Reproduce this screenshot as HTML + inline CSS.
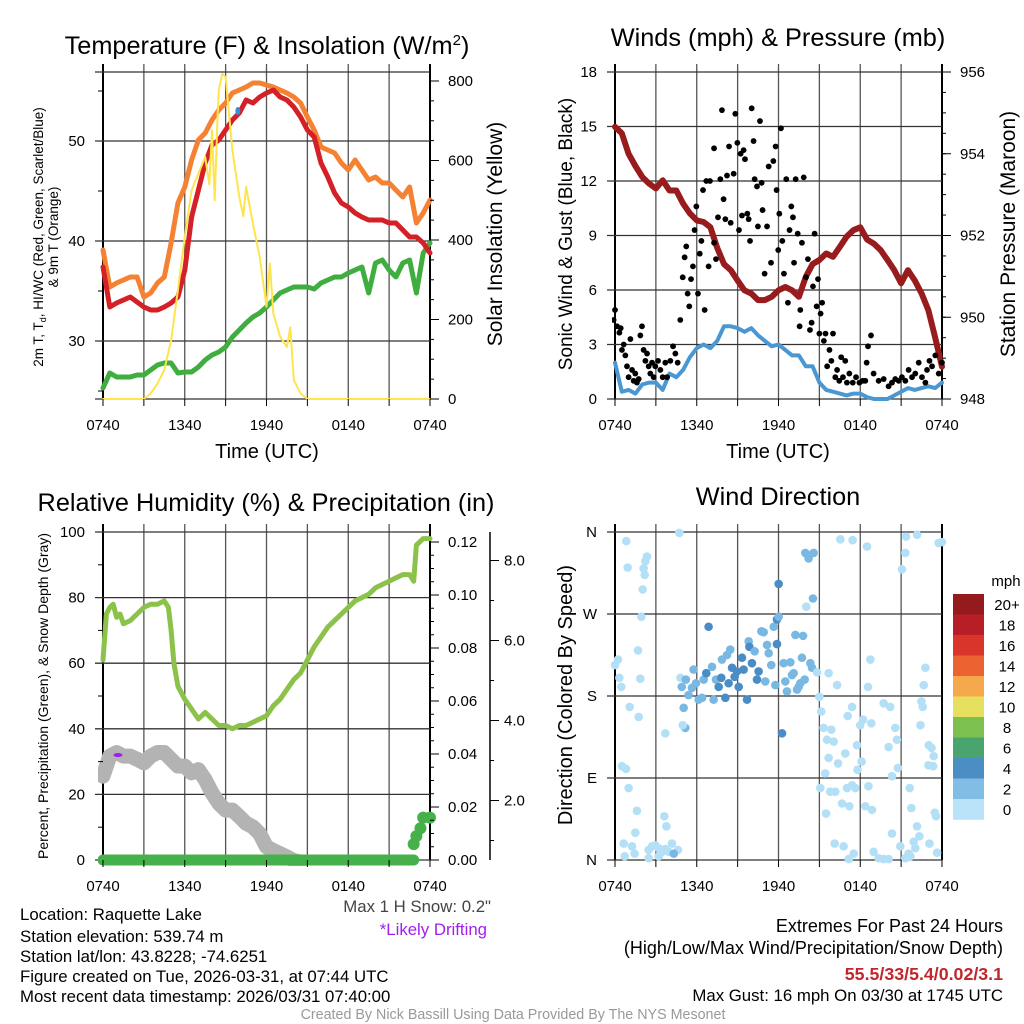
<!DOCTYPE html>
<html><head><meta charset="utf-8"><style>
html,body{margin:0;padding:0;background:#fff;}
svg{display:block;font-family:"Liberation Sans",sans-serif;}
</style></head><body>
<svg id="fig" width="1024" height="1024" viewBox="0 0 1024 1024" xmlns="http://www.w3.org/2000/svg">
<defs>
<clipPath id="c1"><rect x="100" y="70" width="334" height="331"/></clipPath>
<clipPath id="c2"><rect x="612" y="70" width="334" height="331"/></clipPath>
<clipPath id="c3"><rect x="98" y="530" width="338" height="336"/></clipPath>
<clipPath id="c4"><rect x="606" y="528" width="344" height="338"/></clipPath>
</defs>
<g id="grid"></g>
<g id="marks"></g>
<g id="axes"></g>
<g font-size="25.3" fill="#000" text-anchor="middle">
<text x="267" y="54">Temperature (F) &amp; Insolation (W/m<tspan dy="-9" font-size="15">2</tspan><tspan dy="9">)</tspan></text>
<text x="778" y="46">Winds (mph) &amp; Pressure (mb)</text>
<text x="266" y="511">Relative Humidity (%) &amp; Precipitation (in)</text>
<text x="778" y="505">Wind Direction</text>
</g>
<g font-size="20" text-anchor="middle">
<text x="267" y="458">Time (UTC)</text>
<text x="778" y="458">Time (UTC)</text>
<text transform="translate(502,234) rotate(-90)" font-size="21">Solar Insolation (Yellow)</text>
<text transform="translate(572,234) rotate(-90)" font-size="19">Sonic Wind &amp; Gust (Blue, Black)</text>
<text transform="translate(1015,234) rotate(-90)" font-size="21">Station Pressure (Maroon)</text>
<text transform="translate(572,695) rotate(-90)" font-size="20">Direction (Colored By Speed)</text>
</g>
<g font-size="13.5" text-anchor="middle">
<text transform="translate(43,237) rotate(-90)">2m T, T<tspan font-size="9" dy="3">d</tspan><tspan dy="-3">, HI/WC (Red, Green, Scarlet/Blue)</tspan></text>
<text transform="translate(58,237) rotate(-90)">&amp; 9m T (Orange)</text>
<text transform="translate(48,696) rotate(-90)" font-size="14">Percent, Precipitation (Green), &amp; Snow Depth (Gray)</text>
</g>
<g font-size="16.8">
<text x="20" y="920">Location: Raquette Lake</text>
<text x="20" y="942">Station elevation: 539.74 m</text>
<text x="20" y="962">Station lat/lon: 43.8228; -74.6251</text>
<text x="20" y="982">Figure created on Tue, 2026-03-31, at 07:44 UTC</text>
<text x="20" y="1002">Most recent data timestamp: 2026/03/31 07:40:00</text>
<text x="491" y="912" text-anchor="end" fill="#444">Max 1 H Snow: 0.2"</text>
<text x="487" y="935" text-anchor="end" fill="#a020f0">*Likely Drifting</text>
<text x="1003" y="932" text-anchor="end" font-size="18">Extremes For Past 24 Hours</text>
<text x="1003" y="954" text-anchor="end" font-size="18">(High/Low/Max Wind/Precipitation/Snow Depth)</text>
<text x="1003" y="980" text-anchor="end" font-size="17.8" font-weight="bold" fill="#c0282d">55.5/33/5.4/0.02/3.1</text>
<text x="1003" y="1001" text-anchor="end" font-size="16.8">Max Gust: 16 mph On 03/30 at 1745 UTC</text>
<text x="513" y="1019" text-anchor="middle" font-size="14.3" fill="#999">Created By Nick Bassill Using Data Provided By The NYS Mesonet</text>
</g>
</svg>
<script>
// ---------- data ----------
const hourTicks = ["0740","1340","1940","0140","0740"];
const t49 = [];
for (let i = 0; i <= 48; i++) t49.push(i * 0.5);
const tempRed = [37.4,33.4,33.8,34.1,34.4,33.9,33.4,33.1,33.1,33.4,33.8,34.4,37.1,42.4,45.1,47.8,49.6,50.1,51.1,52.1,52.8,54.1,53.8,54.4,54.8,55.1,54.4,54.1,53.4,52.4,51.1,50.4,47.8,46.4,44.8,43.8,43.4,42.8,42.4,42.1,42.1,42.1,41.8,41.8,41.1,40.4,40.4,39.8,38.8,39.4,40.1].slice(0,49);
const tempOrange = [39.1,35.4,35.8,36.1,36.4,36.4,34.4,34.8,35.8,36.4,39.8,43.8,45.4,48.1,50.1,50.8,52.1,53.1,53.8,54.8,55.1,55.4,55.8,55.8,55.6,55.4,55.1,54.8,54.4,53.8,52.4,51.1,49.4,49.1,48.8,47.8,47.1,48.1,47.1,46.1,46.4,45.8,45.8,45.1,44.4,45.4,41.8,42.8,44.1];
const tempDew = [25.3,26.8,26.4,26.4,26.4,26.6,26.6,27.1,27.6,27.8,27.8,26.8,26.9,26.9,27.4,28.1,28.6,28.9,29.4,30.4,31.1,31.8,32.4,32.8,33.4,34.1,34.8,35.1,35.4,35.4,35.4,35.2,35.8,36.1,36.4,36.4,36.8,37.1,37.4,34.8,37.8,38.1,37.1,36.4,37.8,38.1,34.8,38.8,39.8];
const solarT = [0,3,3.5,4,4.5,5,5.5,6,6.5,7,7.5,7.8,8,8.2,8.4,8.5,8.75,9,9.3,9.5,10,10.3,10.5,11,11.5,12,12.25,12.5,13,13.5,13.75,14,14.5,15,24];
const solarW = [0,0,14,39,73,148,274,408,525,567,609,540,676,500,700,777,818,810,700,626,508,460,534,441,358,232,341,215,157,131,180,48,14,0,0];
const pressure = [954.66,954.5,954.0,953.7,953.43,953.27,953.15,953.35,953.1,953.1,952.78,952.54,952.37,952.33,952.2,951.7,951.3,951.15,950.9,950.66,950.58,950.42,950.42,950.5,950.66,950.74,950.66,950.5,950.99,951.3,951.4,951.56,951.48,951.72,951.97,952.13,952.2,951.9,951.8,951.64,951.4,951.15,950.83,951.15,950.9,950.58,950.17,949.5,948.79];
const windSpd = [2.0,0.4,0.5,0.3,0.8,0.9,0.9,0.5,1.4,1.2,1.6,2.3,2.8,3.0,2.8,3.2,4.0,4.0,3.9,3.7,3.9,3.5,3.2,2.9,3.0,2.7,2.4,2.4,1.8,1.8,0.9,0.5,0.4,0.3,0.2,0.3,0.3,0.1,0.0,0.0,0.0,0.2,0.4,0.6,0.5,0.6,0.7,0.6,0.9];
const gustT = [-0.1,0,0.15,0.32,0.42,0.51,0.64,0.76,0.88,1.0,1.13,1.25,1.37,1.49,1.61,1.74,1.86,1.98,2.1,2.23,2.35,2.47,2.59,2.72,2.84,2.96,3.16,3.33,3.5,3.69,3.82,4.06,4.26,4.43,4.6,4.79,4.97,5.11,5.23,5.33,5.45,5.58,5.72,5.84,5.97,6.09,6.22,6.34,6.46,6.58,6.7,6.87,6.97,7.27,7.27,7.41,7.56,7.73,7.85,7.97,8.1,8.22,8.37,8.49,8.71,8.83,8.98,9.1,9.22,9.32,9.44,9.54,9.71,9.81,9.91,10.03,10.17,10.25,10.42,10.49,10.64,10.76,10.83,10.98,11.16,11.28,11.45,11.62,11.79,11.86,11.98,12.06,12.18,12.28,12.4,12.57,12.69,12.81,12.94,13.06,13.14,13.26,13.41,13.55,13.6,13.72,13.85,14.02,14.16,14.31,14.43,14.53,14.65,14.8,14.9,15.0,15.09,15.2,15.33,15.45,15.57,15.74,15.88,16.0,16.17,16.3,16.46,16.6,16.73,16.9,17.02,17.2,17.45,17.69,17.94,18.18,18.37,18.47,18.57,18.79,18.98,19.35,19.72,20.08,20.33,20.57,20.82,21.06,21.31,21.55,21.8,22.04,22.29,22.53,22.78,22.9,23.08,23.27,23.51,23.76,24.0];
const gustV = [4.35,4.9,4.0,3.65,3.9,2.7,3.0,2.4,1.8,1.2,3.3,1.6,1.0,1.4,0.9,1.1,3.5,4.0,2.7,2.1,2.5,1.8,1.4,2.0,1.2,1.8,2.1,1.6,1.2,2.0,1.2,2.1,2.9,2.5,2.0,4.35,6.7,7.8,8.4,5.8,5.1,6.6,7.3,9.3,10.6,5.8,8.0,8.7,11.5,4.9,12.0,7.3,12.0,8.6,13.8,7.7,10.0,12.1,15.9,11.0,9.9,12.3,13.9,9.7,12.4,15.7,14.1,9.3,13.5,10.1,13.7,13.2,10.2,9.9,8.7,16.0,14.2,12.1,11.7,9.5,15.3,11.9,10.4,6.9,9.5,12.8,7.5,13.1,13.9,11.5,8.2,10.2,14.9,8.7,6.9,12.1,5.3,9.3,10.6,10.0,7.5,12.1,9.1,4.0,4.9,8.6,12.2,6.7,7.7,3.8,4.2,6.2,9.1,5.1,6.6,3.6,4.7,5.3,3.2,3.6,1.8,2.7,2.1,3.6,1.2,1.6,1.0,2.3,1.2,2.1,0.9,1.4,0.9,1.2,0.9,1.0,1.0,2.0,2.9,3.5,1.4,1.0,1.1,0.7,0.9,1.1,1.0,1.2,1.0,1.6,1.2,1.4,2.0,1.2,0.9,1.6,2.1,1.8,2.4,1.4,2.0,1.2,1.6];
const rhT = [0,0.25,0.5,0.75,1,1.25,1.5,2,2.5,3,3.5,4,4.5,4.8,5,5.2,5.5,6,6.5,7,7.5,8,8.5,9,9.5,10,10.5,11,11.5,12,12.5,13,13.5,14,14.5,15,15.5,16,16.5,17,17.5,18,18.5,19,19.5,20,20.5,21,21.5,22,22.5,22.8,23,23.5,24];
const rhV = [61,75,77,78,74,75,72,73,75,77,78,78,79,77,70,60,53,49,46,43,45,43,41,41,40,41,41,42,43,44,47,49,52,55,57,61,65,68,71,73,75,77,79,80,81,83,84,85,86,87,87,85,96,98,98];
const snowT = [0,0.5,1,1.5,2,2.5,3,3.5,4,4.5,5,5.5,6,6.5,7,7.5,8,8.5,9,9.5,10,10.5,11,11.5,12,12.5,13,13.5,14,14.5];
const snowIn = [2.61,3.11,3.2,3.11,3.11,3.03,2.94,3.11,3.2,3.2,3.03,2.86,2.86,2.69,2.77,2.52,2.19,1.93,1.76,1.76,1.6,1.43,1.34,1.17,0.84,0.75,0.67,0.59,0.5,0.46];
const precipT = [0,4,8,12,16,20,22.8,22.8,23.0,23.3,23.5,24];
const precipIn = [0,0,0,0,0,0,0,0.006,0.009,0.012,0.016,0.016];
const dirT = [0.83,0.93,2.1,2.35,2.23,2.18,2.03,1.93,1.69,1.86,1.08,1.74,0,0.22,0.32,0.46,0.51,0.81,1.0,1.61,1.49,0.64,0.71,1.25,1.44,2.47,2.72,2.96,3.2,3.45,3.69,3.94,4.18,4.62,2.47,3.2,3.62,3.77,3.69,4.72,4.31,5.04,5.16,4.97,4.8,4.9,5.2,5.4,5.65,5.77,5.94,6.14,6.39,6.51,6.7,6.87,7.12,7.24,7.41,7.61,7.8,7.85,8.1,8.22,8.34,8.46,8.59,8.78,8.95,9.08,9.32,9.44,9.69,9.81,9.86,10.05,10.25,10.42,10.54,10.74,10.91,11.03,11.16,11.28,11.47,11.65,11.77,11.89,11.89,12.01,12.01,12.26,12.38,12.5,12.62,12.87,12.99,13.11,13.24,13.36,13.48,13.6,13.72,13.8,13.92,13.97,14.21,14.58,14.53,14.34,14.46,14.04,14.83,15.0,15.14,15.31,15.56,15.68,15.88,16.05,16.3,16.54,17.44,18.5,17.4,17.08,16.9,16.37,15.68,15.43,15.07,15.8,16.17,16.66,17.2,17.03,17.4,17.64,17.76,17.8,18.1,18.21,18.0,18.81,18.6,18.37,18.86,18.57,18.74,19.72,20.2,20.57,20.08,20.69,20.76,20.33,21.63,21.75,22.17,22.34,21.92,22.04,21.55,20.94,20.33,18.98,19.35,19.72,20.08,17.15,17.52,16.78,16.12,15.49,21.06,21.31,21.36,22.17,23.75,24,22.78,22.66,22.49,22.59,22.42,23.03,23.23,23.39,23.0,23.35,23.47,23.57,23.08,23.64,21.31,21.68];
const dirDeg = [350,321,320,333,328,313,297,267,230,199,168,157,214,220,200,190,103,100,79,54,30,18,4,15,7,11,15,16,13,9,12,9,18,11,2,4,48,37,139,359,7,167,145,148,200,190,198,181,189,209,194,176,178,198,205,256,212,176,198,190,200,220,178,225,194,231,211,201,207,190,222,209,176,240,234,216,229,198,207,251,250,196,236,227,214,256,192,264,237,267,303,139,216,196,185,217,203,205,247,187,190,194,222,246,198,337,331,337,287,216,211,278,206,179,163,145,132,205,143,130,192,352,351,344,168,158,117,106,112,95,79,75,75,62,59,79,82,79,126,99,108,154,148,150,81,59,55,190,220,172,168,145,124,132,101,92,79,57,37,26,20,13,7,15,29,9,2,1,1,1,7,15,18,51,319,337,355,357,348,349,211,192,174,168,148,126,123,114,104,103,52,48,18,8,2,4];
const dirSpd = [1,1,1,1,1,1,1,1,1,1,1,1,1,1,1,1,1,1,1,1,1,1,1,1,1,1,1,1,1,1,1,1,1,1,1,1,1,1,1,1,3,3,3,1,1,3,3,3,3,3,3,3,3,3,5,5,3,3,3,5,5,3,5,3,5,3,5,5,5,5,5,5,5,3,5,5,3,5,5,3,3,3,3,3,3,3,3,5,5,3,5,5,3,3,3,3,3,3,3,3,3,3,3,3,3,3,3,3,3,3,3,1,1,1,1,1,1,1,1,1,1,1,1,1,1,1,1,1,1,1,1,1,1,1,1,1,1,1,1,1,1,1,1,1,1,1,1,1,1,1,1,1,1,1,1,1,1,1,1,1,1,1,1,1,1,1,1,1,1,1,1,1,1,1,1,1,1,1,1,1,1,1,1,1,1,1,1,1,1,1,1,1,1,1,1,1,1,1,1];
const cbLabels = ["20+","18","16","14","12","10","8","6","4","2","0"];
const cbColors = ["#951a1d","#b81e25","#d9352b","#ec6231","#f5a84c","#e7e05e","#7cc04f","#4aa46d","#4a8ec4","#82bde6","#b8e3f8"];

// ---------- helpers ----------
const NS = "http://www.w3.org/2000/svg";
const G = document.getElementById("grid"), M = document.getElementById("marks"), A = document.getElementById("axes");
function mk(tag, attrs, parent){ const e=document.createElementNS(NS,tag); for(const k in attrs) e.setAttribute(k,attrs[k]); parent.appendChild(e); return e; }
const W = 327, H24 = 24;
const xS = x0 => t => x0 + t * W / H24;
const X1 = xS(103), X2 = xS(615);
const yT = v => 141 - (v - 50) * 10;
const yS = w => 399 - w * 0.3975;
const yW = v => 399 - v * 327 / 18;
const yP = p => 399 - (p - 948) * 327 / 8;
const yR = v => 860 - v * 3.28;
const yPr = p => 860 - p * 2650;
const ySn = s => 880.5 - s * 40;
const yD = d => 860 - d * 328 / 360;
function path(ts, vs, xf, yf){ return ts.map((t,i)=>(i?"L":"M")+xf(t).toFixed(1)+","+yf(vs[i]).toFixed(1)).join(""); }
function txt(x,y,s,anchor,size){ const e=mk("text",{x:x,y:y,"text-anchor":anchor,"font-size":size||15},A); e.textContent=s; return e; }

// ---------- grid & axes per panel ----------
function panel(x0, yTop, yBot, hTicks, xLabY){
  for(let k=0;k<=8;k++){
    const x = x0 + k*W/8;
    const l = mk("line",{x1:x,y1:yTop-8,x2:x,y2:yBot,stroke:(k===0||k===8)?"#000":"#555","stroke-width":(k===0||k===8)?2:1.3},G);
    
    
    const tk = mk("line",{x1:x,y1:yBot,x2:x,y2:yBot+7,stroke:"#000","stroke-width":1},A);
    
    
  }
  hTicks.forEach(y=>{
    const l = mk("line",{x1:x0-8,y1:y,x2:x0+W,y2:y,stroke:"#333","stroke-width":1.3},G);
    
    
  });
  hourTicks.forEach((s,i)=>{
    const e = txt(x0 + i*W/4, xLabY, s, "middle", 15);
    
    
  });
}
function rightTicks(x, vals, yf, labels, minor, lx){
  minor.forEach(v=>{ const l=mk("line",{x1:x,y1:yf(v),x2:x+4,y2:yf(v),stroke:"#000"},A);
    
     });
  vals.forEach((v,i)=>{ const l=mk("line",{x1:x,y1:yf(v),x2:x+9,y2:yf(v),stroke:"#000"},A);
    
    
    const e=txt(lx,yf(v)+5,labels[i],"start",15);
    
     });
}
function leftLabels(x, vals, yf, labels){
  vals.forEach((v,i)=>{ const e=txt(x,yf(v)+5,labels[i],"end",15);
    
     });
}

// Panel 1
const tVals=[30,40,50];
panel(103,72,399,[72,...tVals.map(yT),399],430);
leftLabels(85,tVals,yT,["30","40","50"]);
[25,35,45,55].forEach(v=>{const l=mk("line",{x1:98,y1:yT(v),x2:103,y2:yT(v),stroke:"#000"},A);
  
  });
const sVals=[0,200,400,600,800], sMinor=[];
for(let w=0;w<=825;w+=50) sMinor.push(w);
rightTicks(430,sVals,yS,["0","200","400","600","800"],sMinor,448);

// Panel 2
const wVals=[0,3,6,9,12,15,18];
panel(615,72,399,wVals.map(yW),430);
leftLabels(597,wVals,yW,wVals.map(String));
const pVals=[948,950,952,954,956], pMinor=[];
for(let p=948;p<=956.01;p+=0.5) pMinor.push(p);
rightTicks(942,pVals,yP,pVals.map(String),pMinor,960);

// Panel 3
const rVals=[0,20,40,60,80,100];
panel(103,532,860,rVals.map(yR),891);
leftLabels(85,rVals,yR,rVals.map(String));
[10,30,50,70,90].forEach(v=>{const l=mk("line",{x1:98,y1:yR(v),x2:103,y2:yR(v),stroke:"#000"},A);
  
  });
const prVals=[0,0.02,0.04,0.06,0.08,0.10,0.12], prMinor=[];
for(let p=0;p<=0.1201;p+=0.005) prMinor.push(p);
rightTicks(430,prVals,yPr,["0.00","0.02","0.04","0.06","0.08","0.10","0.12"],prMinor,448);
const sax=mk("line",{x1:490,y1:532,x2:490,y2:860,stroke:"#000","stroke-width":1.5},A);


const snVals=[2,4,6,8], snMinor=[1,3,5,7];
rightTicks(490,snVals,ySn,["2.0","4.0","6.0","8.0"],snMinor,504);

// Panel 4
const dVals=[0,90,180,270,360];
panel(615,532,860,dVals.map(yD),891);
leftLabels(597,dVals,yD,["N","E","S","W","N"]);
cbColors.forEach((c,i)=>{
  const r=mk("rect",{x:953,y:594+i*20.5,width:31,height:20.8,fill:c},A);
  
  
  const e=txt(1007,594+i*20.5+16,cbLabels[i],"middle",15);
  
  
});
const mph=txt(1006,586,"mph","middle",15);



// ---------- marks ----------
function line(d, color, w, clip, name){
  const p=mk("path",{d:d,fill:"none",stroke:color,"stroke-width":w,"stroke-linejoin":"round","stroke-linecap":"round","clip-path":"url(#"+clip+")"},M);
  
  
}
line(path(t49,tempDew,X1,yT),"#3fae3f",5,"c1","dewpoint-line");
line(path(t49,tempOrange,X1,yT),"#f58232",5,"c1","temp-9m-line");
line(path(t49,tempRed,X1,yT),"#d42027",5,"c1","temp-2m-line");
line(path(solarT,solarW,X1,yS),"#ffe44d",2,"c1","solar-line");
const hw=mk("ellipse",{cx:X1(9.9),cy:yT(53.0),rx:2.5,ry:4,fill:"#3a8fd0"},M);



line(path(t49,windSpd,X2,yW),"#4b97d2",4,"c2","sonic-wind-line");
line(path(t49,pressure,X2,yP),"#981b1e",6,"c2","pressure-line");
gustT.forEach((t,i)=>{
  const c=mk("circle",{cx:X2(Math.max(t,-0.1)),cy:yW(gustV[i]),r:2.9,fill:"#000","clip-path":"url(#c2)"},M);
  
  
});

line(path(rhT,rhV,X1,yR),"#8cc24a",5,"c3","humidity-line");
line(path(snowT,snowIn,X1,ySn),"#b3b3b3",15,"c3","snow-depth-line");
const dr=mk("ellipse",{cx:X1(1.1),cy:yR(32),rx:4.5,ry:2,fill:"#a020f0"},M);


line(path(precipT.slice(0,7),precipIn.slice(0,7),X1,yPr),"#46b04a",11,"c3","precip-zero-line");
precipT.slice(7).forEach((t,j)=>{
  const c=mk("circle",{cx:X1(t),cy:yPr(precipIn[j+7]),r:6,fill:"#46b04a","clip-path":"url(#c3)"},M);
  
  
});

dirT.forEach((t,i)=>{
  const s=dirSpd[i];
  const col = s<2 ? "#b3e0f6" : (s<4 ? "#7ab8e4" : "#4a8cc6");
  const c=mk("circle",{cx:X2(t),cy:yD(dirDeg[i]),r:4.3,fill:col,"clip-path":"url(#c4)"},M);
  
  
});
</script>
</body></html>
